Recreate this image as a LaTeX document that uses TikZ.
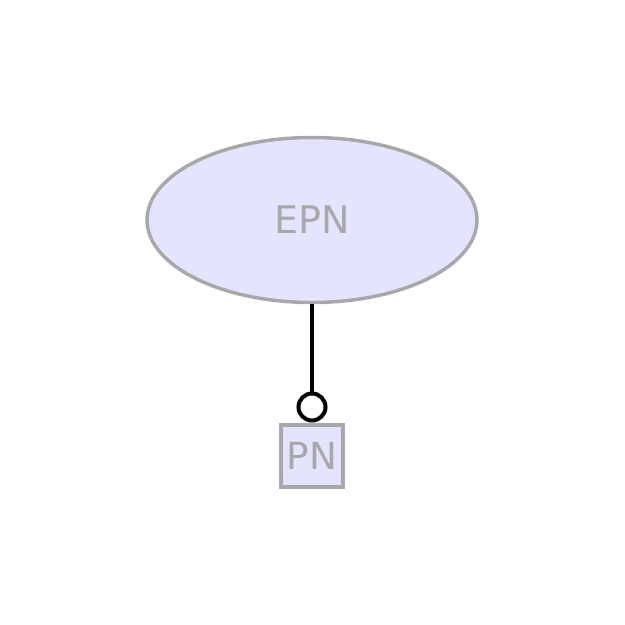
\documentclass[tikz,border=0pt]{standalone}
\usepackage{fontspec}
\setmainfont{DejaVu Sans}
\usetikzlibrary{shapes.geometric}
\definecolor{gline}{HTML}{A8A8A8}
\definecolor{gfill}{HTML}{E4E4FF}
\begin{document}
\begin{tikzpicture}[x=0.75pt,y=-0.75pt,
  entity/.style={ellipse,draw=gline,fill=gfill,line width=2.6pt,minimum width=330*0.75pt,minimum height=165*0.75pt,inner sep=0pt,text=gline,font=\fontsize{28.5pt}{34pt}\selectfont},
  pnbox/.style={rectangle,draw=gline,fill=gfill,line width=2.6pt,minimum width=62*0.75pt,minimum height=62*0.75pt,inner sep=0pt,text=gline,font=\fontsize{28pt}{34pt}\selectfont},
  ring/.style={circle,draw=black,fill=white,line width=3pt,minimum size=27*0.75pt,inner sep=0pt},
  conn/.style={draw=black,line width=3pt}]
\useasboundingbox (0,0) rectangle (625,625);
\node[entity] (epn) at (312,220) {EPN};
\node[pnbox] (pn) at (312,456) {PN};
\node[ring] (c) at (312,407) {};
\draw[conn] (epn.south) -- (c.north);
\end{tikzpicture}
\end{document}
